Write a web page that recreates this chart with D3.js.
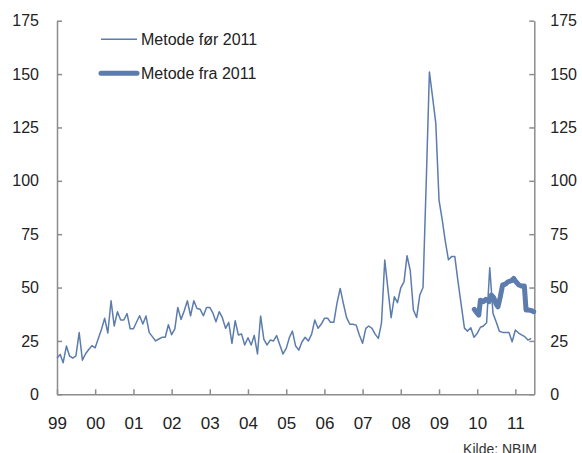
<!DOCTYPE html>
<html>
<head>
<meta charset="utf-8">
<script src="https://cdn.jsdelivr.net/npm/d3@7"></script>
<style>
  body { margin: 0; background: #fff; }
  svg { display: block; font-family: "Liberation Sans", Arial, sans-serif; }
  .axis path, .axis line { stroke: #8c8c8c; stroke-width: 1.5; }
  .axis text { fill: #222; }
</style>
</head>
<body>
<svg width="582" height="453"></svg>
<script>
// Metode før 2011, monthly from Jan 1999
var forValues = [
  17, 18.7, 14.8, 22.6, 17.9, 17, 18, 28.9, 16, 19, 21, 22.8,
  21.8, 26.2, 30.4, 35.6, 28.7, 43.8, 32, 38.7, 34.8, 34.8, 37.8, 30.7,
  30.7, 34, 36.8, 32.9, 36.7, 28.9, 27, 25, 25.9, 26.7, 26.7, 32.6,
  27.9, 30.6, 40.7, 35.1, 39, 43.8, 36.8, 43.8, 40.2, 39.8, 36.8, 40.7,
  40.7, 37.9, 34, 38.7, 35.9, 30.9, 33.7, 23.9, 34.5, 27.8, 28.2, 23.1,
  26.5, 23.1, 27.6, 18.9, 36.7, 25.7, 23.1, 25.4, 25, 27.5, 23.1, 18.9,
  21.5, 26.7, 29.6, 22.6, 20.7, 24.6, 26.7, 25, 28.2, 34.8, 30.9, 32.8,
  35.6, 35.6, 33.7, 33.7, 42.6, 49.6, 42.6, 35.9, 32.8, 32.8, 32.4, 27.8,
  23.9, 30.9, 32, 30.9, 28.2, 26.2, 33.5, 62.9, 49, 35.9, 45.7, 42.9,
  49.9, 52.7, 64.9, 57.9, 39.5, 36, 46.5, 50, 100, 151, 139, 127,
  91, 81.6, 72, 63, 64.5, 64.5, 53, 42, 31, 29.6, 31.2, 26.7,
  28.5, 31.4, 32, 33.5, 59.3, 37.9, 34, 29.5, 29, 29, 28.9, 24.6,
  30.1, 28.7, 27.8, 27, 25.4, 26.2
];

// Metode fra 2011
var fraDates = [
  "2009-12-04", "2010-01-01", "2010-01-16", "2010-02-01", "2010-03-01",
  "2010-03-25", "2010-04-25", "2010-05-16", "2010-06-07", "2010-07-01",
  "2010-07-19", "2010-08-10", "2010-09-01", "2010-09-28", "2010-10-22",
  "2010-11-25", "2010-12-16", "2011-01-07", "2011-02-04", "2011-03-04",
  "2011-03-28", "2011-04-13", "2011-05-07", "2011-06-04", "2011-06-25"
];
var fraValues = [
  39.8, 37.9, 37.1, 44.1, 43.4,
  44.5, 43.4, 46.5, 45.4, 42.3,
  41, 45.7, 51.2, 51.6, 52.7,
  53.2, 54.3, 52.7, 51.2, 50.7,
  50.7, 39.5, 39.5, 39.2, 38.7
];

var yTicks = [0, 25, 50, 75, 100, 125, 150, 175];
var seriesNames = ["Metode før 2011", "Metode fra 2011"];
var lineColor = "#5b7cad";

var plotLeft = 57, plotRight = 534.3, plotTop = 20.7, plotBottom = 394.3;
var parse = d3.timeParse("%Y-%m-%d");
var start = new Date(1999, 0, 1);

var forData = forValues.map((v, i) => ({ date: d3.timeMonth.offset(start, i), value: v }));
var fraData = fraValues.map((v, i) => ({ date: parse(fraDates[i]), value: v }));

var x = d3.scaleTime()
    .domain([start, new Date(2011, 6, 1)])
    .range([plotLeft, plotRight]);

var y = d3.scaleLinear()
    .domain([0, 175])
    .range([plotBottom, plotTop]);

var svg = d3.select("svg");

// axes - ticks point inward
svg.append("g")
    .attr("class", "axis")
    .attr("transform", "translate(" + plotLeft + ",0)")
    .call(d3.axisLeft(y).tickValues(yTicks).tickSizeInner(-5).tickSizeOuter(0).tickPadding(18))
    .selectAll("text").style("font-size", "16px");

svg.append("g")
    .attr("class", "axis")
    .attr("transform", "translate(" + plotRight + ",0)")
    .call(d3.axisRight(y).tickValues(yTicks).tickSizeInner(-5).tickSizeOuter(0).tickPadding(16))
    .selectAll("text").style("font-size", "16px");

svg.append("g")
    .attr("class", "axis")
    .attr("transform", "translate(0," + plotBottom + ")")
    .call(d3.axisBottom(x).ticks(d3.timeYear.every(1)).tickFormat(d3.timeFormat("%y"))
        .tickSizeInner(-5).tickSizeOuter(0).tickPadding(23))
    .selectAll("text").style("font-size", "17px");

var line = d3.line()
    .x(d => x(d.date))
    .y(d => y(d.value));

svg.append("path")
    .datum(forData)
    .attr("fill", "none")
    .attr("stroke", lineColor)
    .attr("stroke-width", 1.5)
    .attr("stroke-linejoin", "round")
    .attr("d", line);

svg.append("path")
    .datum(fraData)
    .attr("fill", "none")
    .attr("stroke", lineColor)
    .attr("stroke-width", 5)
    .attr("stroke-linejoin", "round")
    .attr("stroke-linecap", "round")
    .attr("d", line);

// legend
var legend = svg.append("g").attr("transform", "translate(101,0)");
var legendY = [39.3, 73.3];
var legendW = [1.5, 5];

legend.selectAll("line")
    .data(seriesNames)
    .enter()
    .append("line")
      .attr("x1", 0)
      .attr("x2", 36)
      .attr("y1", (d, i) => legendY[i])
      .attr("y2", (d, i) => legendY[i])
      .attr("stroke", lineColor)
      .attr("stroke-width", (d, i) => legendW[i])
      .attr("stroke-linecap", (d, i) => i ? "round" : "butt");

legend.selectAll("text")
    .data(seriesNames)
    .enter()
    .append("text")
      .attr("x", 40)
      .attr("y", (d, i) => legendY[i] + 5.5)
      .style("font-size", "16px")
      .attr("fill", "#222")
      .text(d => d);

svg.append("text")
    .attr("x", 537)
    .attr("y", 454)
    .attr("text-anchor", "end")
    .style("font-size", "14px")
    .attr("fill", "#333")
    .text("Kilde: NBIM");
</script>
</body>
</html>
